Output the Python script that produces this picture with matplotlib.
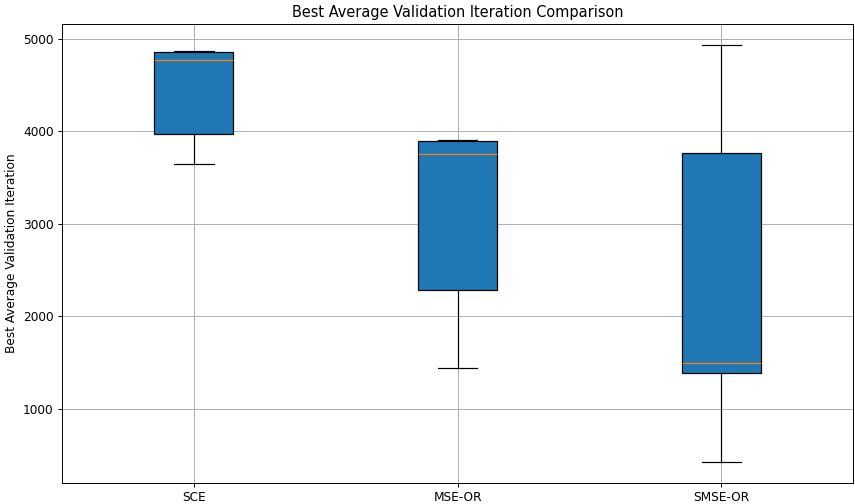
import matplotlib
matplotlib.use('Agg')
import matplotlib.pyplot as plt

# Valores
metodos = ['SCE', 'MSE-OR', 'SMSE-OR']
minimos = [3646, 1438, 424]
q1 = [3976, 2281, 1382]
medianas = [4770, 3757, 1490]
q3 = [4856, 3897, 3770]
maximos = [4867, 3908, 4935]

stats = []
for i, nombre in enumerate(metodos):
    stats.append({'label': nombre, 'whislo': minimos[i], 'q1': q1[i],
                  'med': medianas[i], 'q3': q3[i], 'whishi': maximos[i],
                  'fliers': []})

dpi = 87
fig, ax = plt.subplots(figsize=(855 / dpi, 504 / dpi), dpi=dpi)
ax.bxp(stats, patch_artist=True)
ax.set_title('Best Average Validation Iteration Comparison')
ax.set_ylabel('Best Average Validation Iteration')
ax.grid(True)
fig.subplots_adjust(left=0.0725, right=0.998, top=0.952, bottom=0.042)
plt.savefig('out.png', dpi=dpi)
